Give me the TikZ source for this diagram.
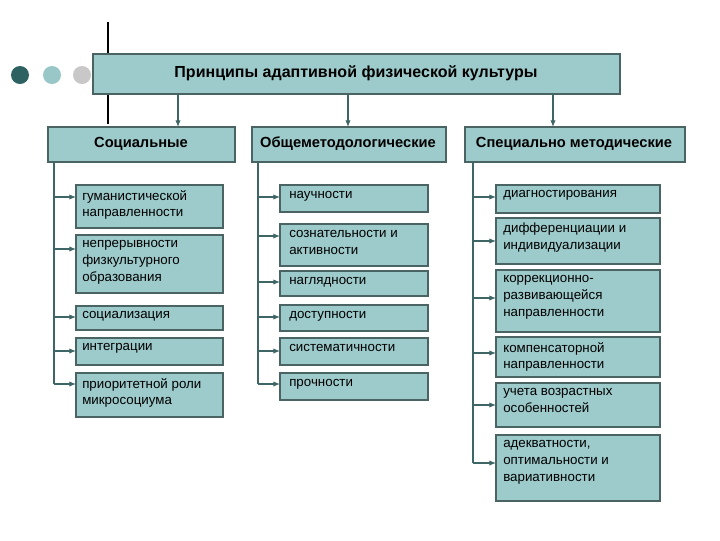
\documentclass[tikz,border=0pt]{standalone}
\usepackage{fontspec}
\setmainfont{Liberation Sans}
\usetikzlibrary{arrows.meta}
\definecolor{boxfill}{HTML}{9DCACA}
\definecolor{boxline}{HTML}{4A6464}
\definecolor{arr}{HTML}{3E6666}
\definecolor{dk}{HTML}{2E6262}
\definecolor{lt}{HTML}{99C6C6}
\definecolor{gr}{HTML}{C8C8C8}
\begin{document}
\begin{tikzpicture}[x=0.75pt,y=-0.75pt,
  bx/.style={draw=boxline,fill=boxfill,line width=0.8pt},
  txt/.style={anchor=north west,align=left,font=\fontsize{10}{12.6}\selectfont,inner sep=0pt},
  hd/.style={font=\bfseries\fontsize{11}{13}\selectfont},
  con/.style={draw=arr,line width=0.8pt,-{Latex[length=5pt,width=4pt]}},
  trunk/.style={draw=arr,line width=0.8pt}]
\useasboundingbox (0,0) rectangle (720,540);
\fill[white] (0,0) rectangle (720,540);
\draw[line width=2.2pt] (108,22) -- (108,124);
\fill[dk] (20,75) circle (9);
\fill[lt] (52,75) circle (9);
\fill[gr] (82,75) circle (9);
% title
\draw[bx] (93,54) rectangle (620,94);
\node[font=\bfseries\fontsize{12}{14}\selectfont] (title) at (356,73) {Принципы адаптивной физической культуры};
% categories
\draw[bx] (48,127) rectangle (235,162);
\node[hd] (c1) at (141,144) {Социальные};
\draw[bx] (252,127) rectangle (446,162);
\node[hd] (c2) at (348,144) {Общеметодологические};
\draw[bx] (465,127) rectangle (685,162);
\node[hd] (c3) at (574,144) {Специально методические};
\coordinate (t1) at (178,94); \coordinate (b1) at (178,127);
\coordinate (t2) at (348,94); \coordinate (b2) at (348,127);
\coordinate (t3) at (553,94); \coordinate (b3) at (553,127);
\draw[con] (t1) -- (b1);
\draw[con] (t2) -- (b2);
\draw[con] (t3) -- (b3);
% trunks
\coordinate (s1) at (54,162); \coordinate (e1) at (54,384);
\coordinate (s2) at (258,162); \coordinate (e2) at (258,384);
\coordinate (s3) at (473,162); \coordinate (e3) at (473,463);
\draw[trunk] (s1) -- (e1);
\draw[trunk] (s2) -- (e2);
\draw[trunk] (s3) -- (e3);
% left column
\foreach \n/\ya/\yb/\ay/\t in {
 l1/185/228/197/{гуманистической\\направленности},
 l2/235/293/249/{непрерывности\\физкультурного\\образования},
 l3/306/330/317/{социализация},
 l4/338/365/351/{интеграции},
 l5/373/417/384/{приоритетной роли\\микросоциума}}{
 \draw[bx] (76,\ya) rectangle (223,\yb);
 \node[txt] (\n) at (82,\ya+5) {\t};
 \coordinate (\n a) at (54,\ay); \coordinate (\n b) at (76,\ay);
 \draw[con] (\n a) -- (\n b);
}
% middle column
\foreach \n/\ya/\yb/\ay/\t in {
 m1/185/212/197/{научности},
 m2/224/266/236/{сознательности и\\активности},
 m3/271/296/282/{наглядности},
 m4/305/331/317/{доступности},
 m5/338/365/351/{систематичности},
 m6/373/400/384/{прочности}}{
 \draw[bx] (280,\ya) rectangle (428,\yb);
 \node[txt] (\n) at (289,\ya+6) {\t};
 \coordinate (\n a) at (258,\ay); \coordinate (\n b) at (280,\ay);
 \draw[con] (\n a) -- (\n b);
}
% right column
\foreach \n/\ya/\yb/\ay/\t in {
 r1/185/213/197/{диагностирования},
 r2/218/264/241/{дифференциации и\\индивидуализации},
 r3/270/332/298/{коррекционно-\\развивающейся\\направленности},
 r4/337/377/353/{компенсаторной\\направленности},
 r5/383/427/405/{учета возрастных\\особенностей},
 r6/435/501/463/{адекватности,\\оптимальности и\\вариативности}}{
 \draw[bx] (496,\ya) rectangle (660,\yb);
 \node[txt] (\n) at (503,\ya+5) {\t};
 \coordinate (\n a) at (473,\ay); \coordinate (\n b) at (496,\ay);
 \draw[con] (\n a) -- (\n b);
}
\end{tikzpicture}
\end{document}
